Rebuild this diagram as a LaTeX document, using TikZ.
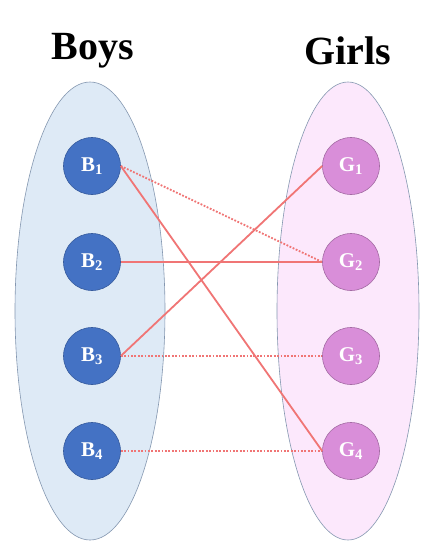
\documentclass[tikz,border=0pt]{standalone}
\usepackage{fontspec}
\setmainfont{Liberation Serif}
\begin{document}
\begin{tikzpicture}[x=1pt,y=-1pt,
  boy/.style={circle,minimum size=57pt,inner sep=0pt,fill=boyblue,draw=boyblue!80!black,line width=0.6pt,text=white,font=\fontsize{21}{23}\selectfont\bfseries},
  girl/.style={circle,minimum size=57pt,inner sep=0pt,fill=girlpink,draw=girlpink!75!black,line width=0.6pt,text=white,font=\fontsize{21}{23}\selectfont\bfseries},
  match/.style={draw=linered,line width=1.8pt},
  maybe/.style={draw=linered,line width=1.8pt,dash pattern=on 1.8pt off 1.6pt},
  title/.style={font=\fontsize{40}{42}\selectfont\bfseries}]
\definecolor{boyblue}{HTML}{4472C4}
\definecolor{girlpink}{HTML}{D98ED9}
\definecolor{linered}{HTML}{F07575}
\definecolor{leftfill}{HTML}{DEEAF6}
\definecolor{rightfill}{HTML}{FCE8FC}
\definecolor{ellborder}{HTML}{8497B0}
\useasboundingbox (0,0) rectangle (438,558);
\fill[white] (0,0) rectangle (438,558);
\filldraw[fill=leftfill,draw=ellborder,line width=0.6pt] (90,311) ellipse [x radius=75,y radius=229];
\filldraw[fill=rightfill,draw=ellborder,line width=0.6pt] (348,311) ellipse [x radius=71,y radius=229];
\node[title] (tb) at (93,51) {Boys};
\node[title] (tg) at (348,51) {Girls};
\node[boy] (b1) at (92,166) {B\textsubscript{1}};
\node[boy] (b2) at (92,262) {B\textsubscript{2}};
\node[boy] (b3) at (92,356) {B\textsubscript{3}};
\node[boy] (b4) at (92,451) {B\textsubscript{4}};
\node[girl] (g1) at (351,166) {G\textsubscript{1}};
\node[girl] (g2) at (351,262) {G\textsubscript{2}};
\node[girl] (g3) at (351,356) {G\textsubscript{3}};
\node[girl] (g4) at (351,451) {G\textsubscript{4}};
\draw[maybe] (b1.east) -- (g2.west);
\draw[match] (b1.east) -- (g4.west);
\draw[match] (b2.east) -- (g2.west);
\draw[match] (b3.east) -- (g1.west);
\draw[maybe] (b3.east) -- (g3.west);
\draw[maybe] (b4.east) -- (g4.west);
\end{tikzpicture}
\end{document}
